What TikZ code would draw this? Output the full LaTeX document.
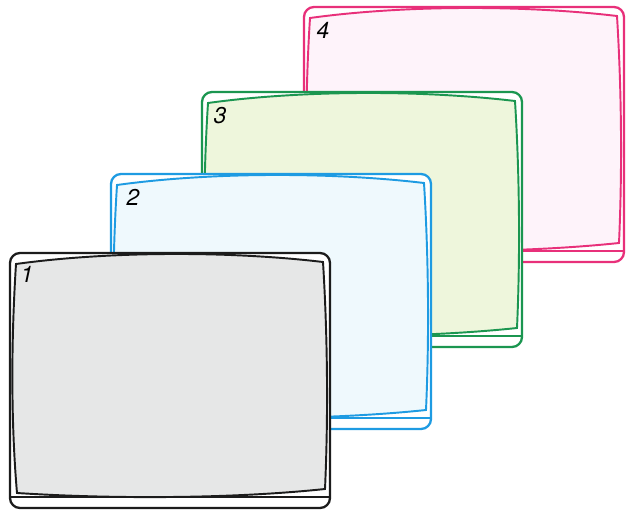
\documentclass[tikz,border=0pt]{standalone}
\usepackage{fontspec}
\setmainfont{TeX Gyre Heros}
\usepackage{xcolor}
\usepackage{tikz}

\definecolor{negro}{HTML}{1C1C1C}
\definecolor{gris}{HTML}{E6E7E7}
\definecolor{azul}{HTML}{1E9BE2}
\definecolor{azulclaro}{HTML}{EFF9FD}
\definecolor{verde}{HTML}{1B9650}
\definecolor{verdeclaro}{HTML}{EEF6DC}
\definecolor{rosa}{HTML}{E8307A}
\definecolor{rosaclaro}{HTML}{FEF3FA}

\begin{document}
\begin{tikzpicture}[x=0.02cm, y=-0.02cm,
        caja/.style={draw, fill=white, line width=1.3pt, rounded corners=0.2cm},
        franja/.style={draw, line width=1.1pt},
        pantalla/.style={draw, line width=1.1pt},
        numero/.style={font=\fontsize{13}{15}\selectfont\itshape, text=black, inner sep=0pt}]

        \useasboundingbox (0,0) rectangle (630,510);

        % Pantalla 4 (al fondo)
        \begin{scope}[shift={(304,7)}, color=rosa]
            \draw[caja] (0,0) rectangle (320,255);
            \draw[franja] (0,244) -- (320,244);
            \draw[pantalla, fill=rosaclaro] (6,11) .. controls (100,-2) and (220,-2) .. (313,9)
                .. controls (318,90) and (318,170) .. (315,236)
                .. controls (220,246) and (100,246) .. (7,240)
                .. controls (1,170) and (1,90) .. cycle;
            \node[numero] (num4) at (19,23) {4};
        \end{scope}

        % Pantalla 3
        \begin{scope}[shift={(202,92)}, color=verde]
            \draw[caja] (0,0) rectangle (320,255);
            \draw[franja] (0,244) -- (320,244);
            \draw[pantalla, fill=verdeclaro] (6,11) .. controls (100,-2) and (220,-2) .. (313,9)
                .. controls (318,90) and (318,170) .. (315,236)
                .. controls (220,246) and (100,246) .. (7,240)
                .. controls (1,170) and (1,90) .. cycle;
            \node[numero] (num3) at (18,24) {3};
        \end{scope}

        % Pantalla 2
        \begin{scope}[shift={(111,174)}, color=azul]
            \draw[caja] (0,0) rectangle (320,255);
            \draw[franja] (0,244) -- (320,244);
            \draw[pantalla, fill=azulclaro] (6,11) .. controls (100,-2) and (220,-2) .. (313,9)
                .. controls (318,90) and (318,170) .. (315,236)
                .. controls (220,246) and (100,246) .. (7,240)
                .. controls (1,170) and (1,90) .. cycle;
            \node[numero] (num2) at (22,23) {2};
        \end{scope}

        % Pantalla 1 (al frente)
        \begin{scope}[shift={(10,253)}, color=negro]
            \draw[caja] (0,0) rectangle (320,255);
            \draw[franja] (0,244) -- (320,244);
            \draw[pantalla, fill=gris] (6,11) .. controls (100,-2) and (220,-2) .. (313,9)
                .. controls (318,90) and (318,170) .. (315,236)
                .. controls (220,246) and (100,246) .. (7,240)
                .. controls (1,170) and (1,90) .. cycle;
            \node[numero] (num1) at (17,21) {1};
        \end{scope}

    \end{tikzpicture}
\end{document}
